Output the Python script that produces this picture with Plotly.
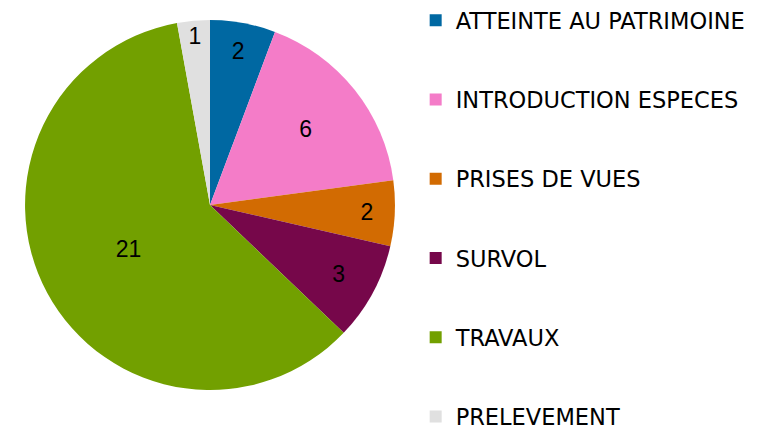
import plotly.graph_objects as go

labels = ["ATTEINTE AU PATRIMOINE", "INTRODUCTION ESPECES", "PRISES DE VUES",
          "SURVOL", "TRAVAUX", "PRELEVEMENT"]
values = [2, 6, 2, 3, 21, 1]
colors = ["#0068A2", "#F47CC8", "#D26B02", "#76074A", "#72A000", "#E0E0E0"]

LEG_FONT = "DejaVu Sans"
NUM_FONT = "Liberation Sans"

fig = go.Figure()
fig.add_trace(go.Pie(
    labels=labels, values=values, sort=False, direction="clockwise", rotation=0,
    marker=dict(colors=colors, line=dict(width=0)),
    textinfo="value", textposition="inside", insidetextorientation="horizontal",
    textfont=dict(family=NUM_FONT, size=23, color="black"),
    showlegend=False, hoverinfo="label+value",
    domain=dict(x=[0.0223, 0.5079], y=[0.1054, 0.9717]),
))
for lab, col in zip(labels, colors):
    fig.add_trace(go.Scatter(
        x=[None], y=[None], mode="markers", name=lab, legendgroup=lab,
        marker=dict(symbol="square", size=13, color=col),
    ))

fig.update_layout(
    width=762, height=427,
    margin=dict(l=0, r=0, t=0, b=0, autoexpand=False),
    paper_bgcolor="white", plot_bgcolor="white",
    xaxis=dict(visible=False), yaxis=dict(visible=False),
    legend=dict(x=0.535, y=1.021, xanchor="left", yanchor="top",
                font=dict(family=LEG_FONT, size=22.5, color="black"),
                traceorder="grouped", tracegroupgap=47, itemsizing="constant",
                maxheight=1000, bgcolor="rgba(0,0,0,0)"),
)
fig.write_html("out.html")
